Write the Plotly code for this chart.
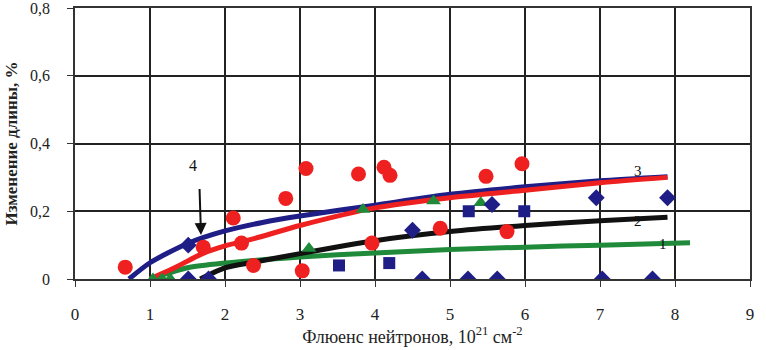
import plotly.graph_objects as go

# ---- data ----
circle_x = [0.67, 1.71, 2.11, 2.22, 2.38, 2.81, 3.03, 3.08, 3.78, 3.96, 4.12, 4.20, 4.87, 5.48, 5.76, 5.96]
circle_y = [0.035, 0.094, 0.18, 0.106, 0.04, 0.238, 0.024, 0.326, 0.31, 0.106, 0.33, 0.306, 0.15, 0.303, 0.14, 0.34]

diamond_x = [1.51, 1.51, 1.78, 4.50, 4.63, 5.24, 5.56, 5.63, 6.95, 7.03, 7.70, 7.90]
diamond_y = [0.10, 0.0, 0.0, 0.144, 0.0, 0.0, 0.22, 0.0, 0.24, 0.0, 0.0, 0.24]

square_x = [3.52, 4.19, 5.25, 5.99]
square_y = [0.04, 0.047, 0.20, 0.20]

triangle_x = [1.04, 1.16, 1.27, 3.12, 3.84, 4.78, 5.41]
triangle_y = [0.0, 0.0, 0.0, 0.09, 0.205, 0.23, 0.225]

curve1_x = [1.0, 1.5, 2.0, 3.0, 4.0, 5.0, 6.0, 7.0, 8.2]
curve1_y = [0.0, 0.033, 0.047, 0.065, 0.077, 0.087, 0.094, 0.100, 0.107]

curve2_x = [1.67, 2.0, 2.4, 3.0, 4.0, 5.0, 6.0, 7.0, 7.9]
curve2_y = [0.0, 0.033, 0.05, 0.075, 0.113, 0.140, 0.158, 0.172, 0.182]

curve3_x = [1.0, 1.3, 1.7, 2.0, 2.4, 3.0, 4.0, 5.0, 6.0, 7.0, 7.9]
curve3_y = [0.0, 0.03, 0.075, 0.098, 0.12, 0.158, 0.21, 0.24, 0.262, 0.284, 0.30]

curve4_x = [0.72, 1.0, 1.5, 2.0, 2.5, 3.0, 4.0, 5.0, 6.0, 7.0, 7.9]
curve4_y = [0.0, 0.048, 0.105, 0.142, 0.167, 0.186, 0.218, 0.25, 0.272, 0.29, 0.302]

x_ticks = [0, 1, 2, 3, 4, 5, 6, 7, 8, 9]
y_ticks = [0, 0.2, 0.4, 0.6, 0.8]
y_tick_labels = ["0", "0,2", "0,4", "0,6", "0,8"]

curve_labels = ["1", "2", "3"]
curve_label_x = [7.84, 7.5, 7.5]
curve_label_y = [0.103, 0.172, 0.318]

RED = "#ee2020"
NAVY = "#1e1e86"
GREEN = "#1f8a3a"
BLACK = "#111111"
FONT = "Liberation Serif"

fig = go.Figure()

def line(x, y, color):
    fig.add_trace(go.Scatter(x=x, y=y, mode="lines", line=dict(color=color, width=5, shape="spline", smoothing=0.7),
                             hoverinfo="skip", showlegend=False))

line(curve4_x, curve4_y, NAVY)
line(curve1_x, curve1_y, GREEN)
line(curve2_x, curve2_y, BLACK)
line(curve3_x, curve3_y, RED)

fig.add_trace(go.Scatter(x=triangle_x, y=triangle_y, mode="markers",
                         marker=dict(symbol="triangle-up", size=13, color=GREEN), showlegend=False))
fig.add_trace(go.Scatter(x=square_x, y=square_y, mode="markers",
                         marker=dict(symbol="square", size=12, color=NAVY), showlegend=False))
fig.add_trace(go.Scatter(x=diamond_x, y=diamond_y, mode="markers",
                         marker=dict(symbol="diamond", size=13, color=NAVY), showlegend=False))
fig.add_trace(go.Scatter(x=circle_x, y=circle_y, mode="markers",
                         marker=dict(symbol="circle", size=15, color=RED), showlegend=False))

for t, x, y in zip(curve_labels, curve_label_x, curve_label_y):
    fig.add_annotation(x=x, y=y, text=t, showarrow=False,
                       font=dict(family=FONT, size=15, color="#111"))

fig.add_annotation(x=1.57, y=0.335, text="4", showarrow=False,
                   font=dict(family=FONT, size=16, color="#111"))
fig.add_annotation(x=1.68, y=0.13, ax=1.66, ay=0.27, axref="x", ayref="y",
                   text="", showarrow=True, arrowhead=2, arrowsize=1.2, arrowwidth=2, arrowcolor="#111")

fig.update_layout(
    width=766, height=350,
    margin=dict(l=75, r=16, t=8, b=71),
    paper_bgcolor="white", plot_bgcolor="white",
    font=dict(family=FONT, size=17, color="#222"),
)
fig.update_xaxes(
    range=[0, 9], tickvals=x_ticks, showgrid=True, gridcolor="#222", gridwidth=1.5,
    showline=True, linecolor="#333", linewidth=1.5, mirror=True, automargin=False,
    ticks="outside", ticklen=6, tickcolor="#333", ticklabelstandoff=13,
    tickfont=dict(family=FONT, size=17, color="#222"),
    ticklabeloverflow="allow", zeroline=False,
    title=dict(text="Флюенс нейтронов, 10<sup>21</sup> см<sup>-2</sup>", standoff=6,
               font=dict(family=FONT, size=18, color="#222")),
)
fig.update_yaxes(
    range=[0, 0.8], tickvals=y_ticks, ticktext=y_tick_labels, showgrid=True, gridcolor="#222", gridwidth=1.5,
    showline=True, linecolor="#333", linewidth=1.5, mirror=True, automargin=False,
    ticks="outside", ticklen=6, tickcolor="#333", ticklabelstandoff=14,
    tickfont=dict(family=FONT, size=16, color="#222"),
    ticklabeloverflow="allow", zeroline=False,
    title=dict(text="<b>Изменение длины, %</b>", standoff=8,
               font=dict(family=FONT, size=17, color="#222")),
)

fig.write_html("out.html", config={"displayModeBar": False},
               post_script="document.body.style.margin='0';")
